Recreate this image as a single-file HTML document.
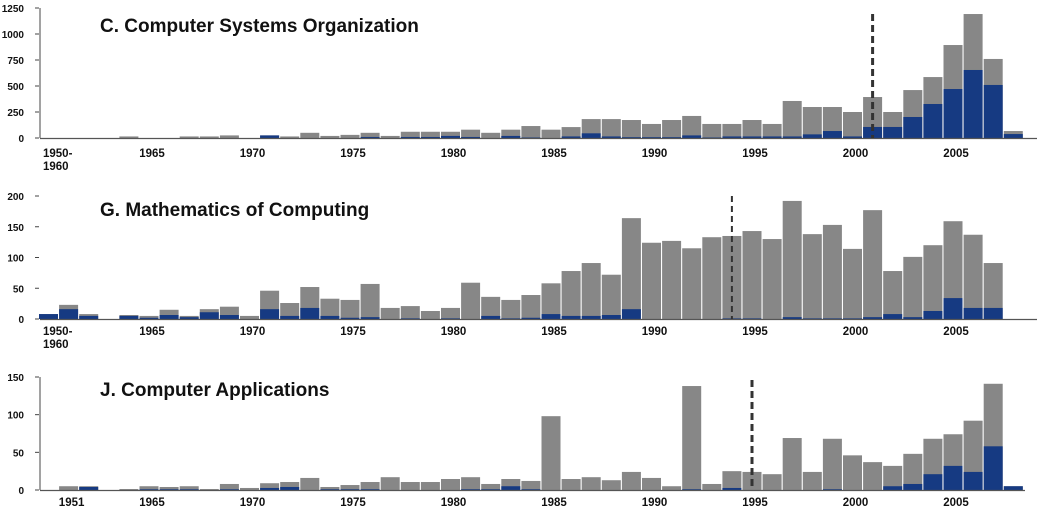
<!DOCTYPE html>
<html><head><meta charset="utf-8">
<style>
html,body{margin:0;padding:0;background:#fff;}
svg{display:block;}
text{font-family:"Liberation Sans",sans-serif;}
.tick{font-size:11.5px;font-weight:bold;fill:#111;}
.ytick{font-size:10px;font-weight:bold;fill:#111;}
.title{font-size:19px;font-weight:bold;fill:#111;}
</style></head>
<body>
<svg id="chart" width="1048" height="519" viewBox="0 0 1048 519" xmlns="http://www.w3.org/2000/svg"></svg>
<script>
// categories: index 0 = 1950-1960 slot, then 1961..2008
const years = [1960,1961,1962,1963,1964,1965,1966,1967,1968,1969,1970,1971,1972,1973,1974,1975,1976,1977,1978,1979,1980,1981,1982,1983,1984,1985,1986,1987,1988,1989,1990,1991,1992,1993,1994,1995,1996,1997,1998,1999,2000,2001,2002,2003,2004,2005,2006,2007,2008];

// Panel C: total and subset (blue)
const cTotal = [0,0,0,0,15,0,0,15,15,25,0,25,15,50,20,30,50,20,60,60,60,80,50,80,115,80,105,182,182,173,135,173,212,135,135,173,135,356,298,298,250,394,250,461,586,894,1192,760,67];
const cBlue  = [0,0,0,0,0,0,0,0,0,0,0,25,0,0,0,0,10,0,10,10,20,10,0,20,5,0,15,45,15,8,8,8,25,5,15,15,15,15,35,67,15,106,106,202,327,471,654,510,38];
const cTicks = [0,250,500,750,1000,1250];

// Panel G
const gTotal = [8,23,8,0,6.5,5,15,5,16,20,5,46,26,52,33,31,57,18,21,13,18,59,36,31,39,58,78,91,72,164,124,127,115,133,135,143,130,192,138,153,114,177,78,101,120,159,137,91,0];
const gBlue  = [8,16,5,0,5,2,6.5,3,11,6.5,0,16,5,18,5,2,3,0,1,0,1,0,5,1,2,8,5,5,6.5,16,0,0,0,0,1,1,0,3,1,1,1,3,8,3,13,34,18,18,0];
const gTicks = [0,50,100,150,200];

// Panel J
const jTotal = [0,5,5,0,1.3,5,4,5,1.3,8,2.7,9,10.6,16,4,6.6,10.6,17,10.6,10.6,14.6,17,8,14.6,12,98,14.6,17,13,24,16,5,138,8,25,24,21,69,24,68,46,37,32,48,68,74,92,141,5];
const jBlue  = [0,0,4,0,0,1,1,1,0,1,0,2.7,4,0,1,1,1,0,0,0,0,1,1,5,1,0,0,0,0,0,0,0,1,0,2.7,0,0,0,0,1,0,0,5,8,21,32,24,58,5];
const jTicks = [0,50,100,150];

// x tick labels per panel
const labelsCG = [["1950-","1960",1960],["1965",null,1965],["1970",null,1970],["1975",null,1975],["1980",null,1980],["1985",null,1985],["1990",null,1990],["1995",null,1995],["2000",null,2000],["2005",null,2005]];
const labelsJ = [["1951",null,1961],["1965",null,1965],["1970",null,1970],["1975",null,1975],["1980",null,1980],["1985",null,1985],["1990",null,1990],["1995",null,1995],["2000",null,2000],["2005",null,2005]];

const titles = ["C. Computer Systems Organization","G. Mathematics of Computing","J. Computer Applications"];
const cutYears = [2001, 1994, 1995];

const NS = "http://www.w3.org/2000/svg";
const svg = document.getElementById('chart');
function mk(tag, attrs, parent){
  const e = document.createElementNS(NS, tag);
  for (const k in attrs) e.setAttribute(k, attrs[k]);
  (parent||svg).appendChild(e);
  return e;
}
function xCenter(y){ return 953 + (y-2005)*20.1; }

const panels = [
  {key:'c', total:cTotal, blue:cBlue, ticks:cTicks, base:138, top:8, max:1250, labels:labelsCG, labelY:157, axisLine:true, axisEnd:1037, title:[100,32], dashTop:14},
  {key:'g', total:gTotal, blue:gBlue, ticks:gTicks, base:319, top:196, max:200, labels:labelsCG, labelY:335, axisLine:false, axisEnd:1037, title:[100,216], dashTop:196},
  {key:'j', total:jTotal, blue:jBlue, ticks:jTicks, base:490, top:377, max:150, labels:labelsJ, labelY:506, axisLine:true, axisEnd:1025, title:[100,396], dashTop:380}
];

panels.forEach((p, pi) => {
  const g = mk('g', {});
  
  
  const yScale = v => p.base - v*(p.base-p.top)/p.max;

  p.ticks.forEach(t => {
    const ty = yScale(t);
    const lab = mk('text', {x:24, y:ty+4, 'text-anchor':'end', class:'ytick'}, g);
    lab.textContent = t;
    
    
    const tk = mk('line', {x1:35, x2:39, y1:ty, y2:ty, stroke:'#444', 'stroke-width':1}, g);
    
    
  });
  if (p.axisLine) {
    const ax = mk('line', {x1:40, x2:40, y1:p.top, y2:p.base, stroke:'#444', 'stroke-width':1}, g);
    
    
  }

  years.forEach((yr, i) => {
    const cx = xCenter(yr);
    const tv = p.total[i], bv = p.blue[i];
    if (tv > 0) {
      const r = mk('rect', {x:cx-9.5, y:yScale(tv), width:19, height:p.base-yScale(tv), fill:'#878787'}, g);
      
      
    }
    if (bv > 0) {
      const r = mk('rect', {x:cx-9.5, y:yScale(bv), width:19, height:p.base-yScale(bv), fill:'#163a82'}, g);
      
      
    }
  });

  const xa = mk('line', {x1:40, x2:p.axisEnd, y1:p.base+0.5, y2:p.base+0.5, stroke:'#555', 'stroke-width':1.2}, g);
  
  

  p.labels.forEach(l => {
    const x = l[1] ? 43 : xCenter(l[2]) + 3;
    const t = mk('text', {x:x, y:p.labelY, 'text-anchor': l[1] ? 'start' : 'middle', class:'tick'}, g);
    t.textContent = l[0];
    
    
    if (l[1]) {
      const t2 = mk('text', {x:x, y:p.labelY+13, 'text-anchor':'start', class:'tick'}, g);
      t2.textContent = l[1];
      
      
    }
  });

  const dx = xCenter(cutYears[pi]);
  const dl = mk('line', {x1:dx, x2:dx, y1:p.dashTop, y2:p.base, stroke:'#333', 'stroke-width':pi===1?2:3, 'stroke-dasharray':pi===1?'6,4':'7,4'}, g);
  
  

  const tt = mk('text', {x:p.title[0], y:p.title[1], class:'title'}, g);
  tt.textContent = titles[pi];
  
  
});
</script>
</body></html>
